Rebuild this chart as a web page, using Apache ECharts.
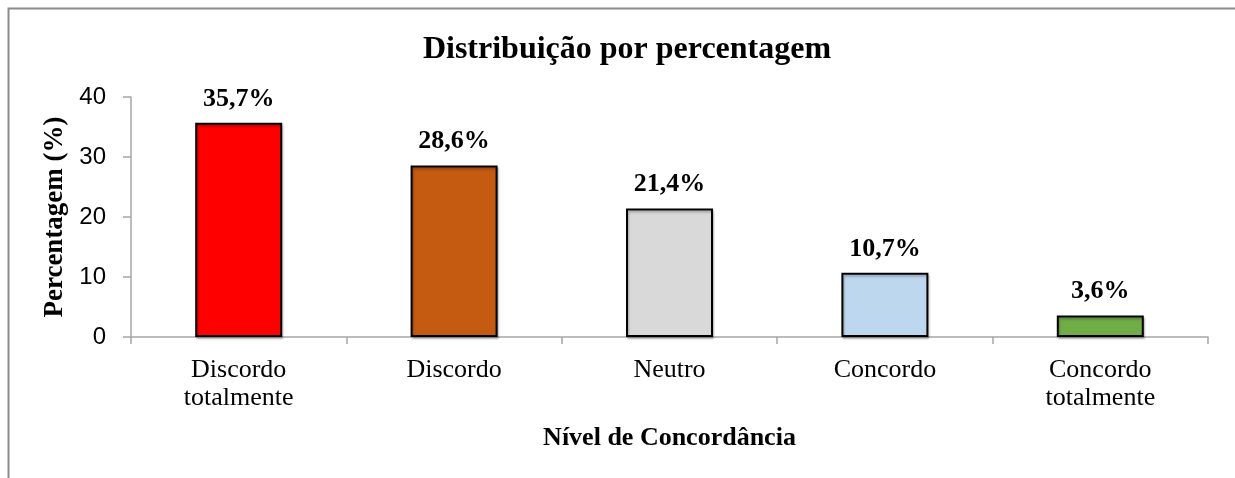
<!DOCTYPE html>
<html>
<head>
<meta charset="utf-8">
<title>Distribuição por percentagem</title>
<script src="https://cdn.jsdelivr.net/npm/echarts@6/dist/echarts.min.js"></script>
<style>
    html, body { margin: 0; padding: 0; background: #fff; }
    #container { width: 1235px; height: 478px; }
</style>
</head>
<body>
<div id="container"></div>
<script>
    var categories = ['Discordo\ntotalmente', 'Discordo', 'Neutro', 'Concordo', 'Concordo\ntotalmente'];
    var percentages = [35.7, 28.6, 21.4, 10.7, 3.6];
    var barColors = ['#ff0000', '#c55a11', '#d9d9d9', '#bdd7ee', '#70ad47'];
    var yTicks = [0, 10, 20, 30, 40];

    var serif = '"Liberation Serif", "Times New Roman", serif';
    var sans = '"Liberation Sans", Arial, sans-serif';

    var myChart = echarts.init(document.getElementById('container'));

    var barData = percentages.map(function (v, i) {
        return { value: v, itemStyle: { color: barColors[i] } };
    });

    var option = {
        animation: false,
        title: {
            text: 'Distribuição por percentagem',
            left: 622,
            top: 29,
            textAlign: 'center',
            textStyle: { fontFamily: serif, fontSize: 32, fontWeight: 'bold', color: '#000' }
        },
        // chart frame: only the top and left edges fall inside the picture
        graphic: [{
            type: 'polyline',
            shape: { points: [[8.5, 478], [8.5, 8.5], [1235, 8.5]] },
            style: { fill: null, stroke: '#8c8c8c', lineWidth: 2 },
            silent: true
        }],
        grid: { left: 131, right: 27, top: 97, bottom: 141 },
        xAxis: {
            type: 'category',
            data: categories,
            name: 'Nível de Concordância',
            nameLocation: 'middle',
            nameGap: 88,
            nameTextStyle: { fontFamily: serif, fontSize: 26, fontWeight: 'bold', color: '#000' },
            axisLine: { lineStyle: { color: '#a6a6a6', width: 1.5 } },
            axisTick: { show: true, length: 7, lineStyle: { color: '#a6a6a6', width: 1.5 } },
            axisLabel: { fontFamily: serif, fontSize: 26, color: '#000', lineHeight: 28, margin: 19 }
        },
        yAxis: {
            type: 'value',
            min: yTicks[0],
            max: yTicks[yTicks.length - 1],
            interval: 10,
            name: 'Percentagem (%)',
            nameLocation: 'middle',
            nameGap: 56,
            nameTextStyle: { fontFamily: serif, fontSize: 27, fontWeight: 'bold', color: '#000' },
            splitLine: { show: false },
            axisLine: { show: true, lineStyle: { color: '#a6a6a6', width: 1.5 } },
            axisTick: { show: true, length: 8, lineStyle: { color: '#a6a6a6', width: 1.5 } },
            axisLabel: { fontFamily: sans, fontSize: 24, color: '#000', margin: 25 }
        },
        series: [{
            type: 'bar',
            data: barData,
            barWidth: 87,
            itemStyle: {
                borderColor: '#000',
                borderWidth: 2,
                shadowColor: 'rgba(0,0,0,0.25)',
                shadowOffsetX: 1,
                shadowOffsetY: 2,
                shadowBlur: 2
            },
            label: {
                show: true,
                position: 'top',
                distance: 11,
                fontFamily: serif,
                fontSize: 26,
                fontWeight: 'bold',
                color: '#000',
                formatter: function (p) {
                    return p.value.toFixed(1).replace('.', ',') + '%';
                }
            }
        }]
    };
    myChart.setOption(option);
</script>
</body>
</html>
